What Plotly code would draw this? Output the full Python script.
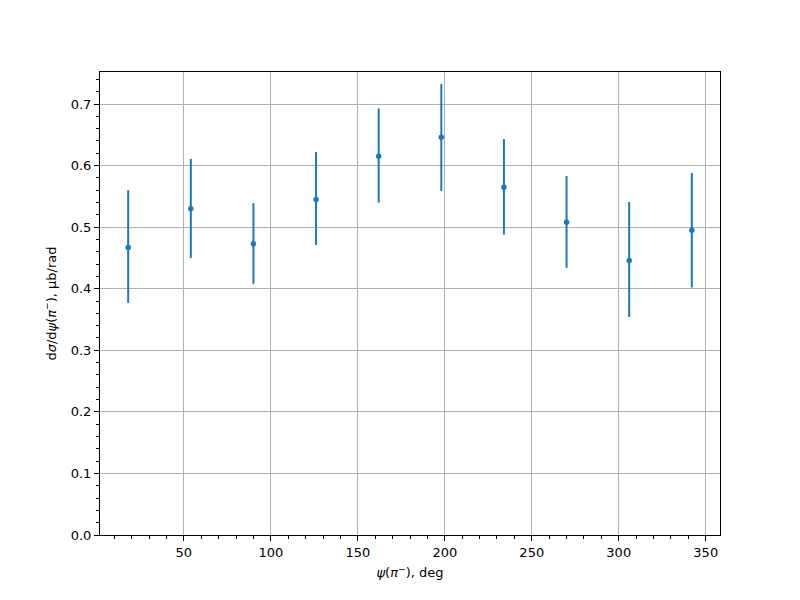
import plotly.graph_objects as go

psi = [18, 54, 90, 126, 162, 198, 234, 270, 306, 342]
xsec = [0.467, 0.530, 0.473, 0.545, 0.615, 0.646, 0.565, 0.508, 0.446, 0.495]
err_hi = [0.560, 0.611, 0.539, 0.622, 0.693, 0.7325, 0.643, 0.583, 0.541, 0.588]
err_lo = [0.377, 0.450, 0.408, 0.471, 0.540, 0.559, 0.488, 0.434, 0.354, 0.402]

plus = [h - v for h, v in zip(err_hi, xsec)]
minus = [v - l for l, v in zip(err_lo, xsec)]

color = "#1f77b4"
fig = go.Figure()
fig.add_trace(go.Scatter(
    x=psi, y=xsec, mode="markers",
    marker=dict(color=color, size=5.5),
    error_y=dict(type="data", symmetric=False, array=plus, arrayminus=minus,
                 color=color, thickness=2, width=0),
    showlegend=False,
))

font = dict(family="DejaVu Sans", size=13, color="black")
axis_common = dict(
    showline=True, linecolor="black", linewidth=1, mirror=True,
    ticks="outside", ticklen=5, tickcolor="black", tickwidth=1,
    showgrid=True, gridcolor="#b0b0b0", gridwidth=1, zeroline=False,
    tickfont=font,
)
fig.update_xaxes(
    range=[1.8, 358.2], tickmode="array", tickvals=[50, 100, 150, 200, 250, 300, 350],
    minor=dict(dtick=10, tick0=0, ticks="outside", ticklen=3, tickcolor="black", showgrid=False),
    title=dict(text="<i>ψ</i>(<i>π</i><sup>−</sup>), deg", font=font, standoff=9),
    **axis_common,
)
fig.update_yaxes(
    range=[0, 0.752], dtick=0.1, tick0=0, tickformat=".1f",
    minor=dict(dtick=0.02, tick0=0, ticks="outside", ticklen=3, tickcolor="black", showgrid=False),
    title=dict(text="d<i>σ</i>/d<i>ψ</i>(<i>π</i><sup>−</sup>), μb/rad", font=font, standoff=11),
    **axis_common,
)
fig.update_layout(
    width=792, height=592,
    margin=dict(l=92, r=80, t=64, b=65),
    paper_bgcolor="white", plot_bgcolor="white",
    font=font,
)
fig.write_html("out.html")
